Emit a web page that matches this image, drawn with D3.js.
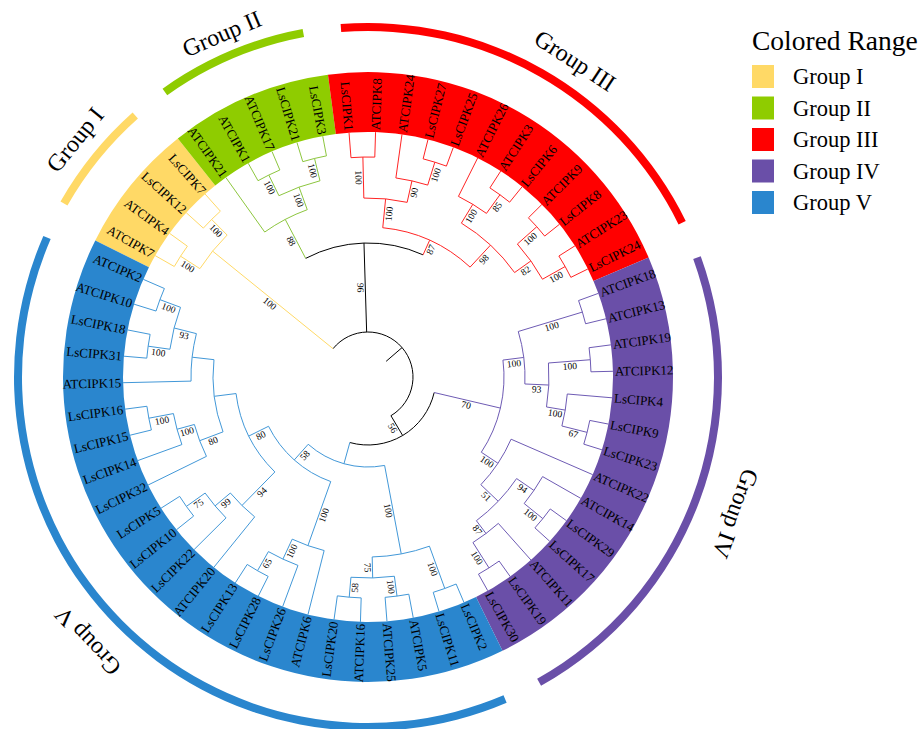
<!DOCTYPE html>
<html>
<head>
<meta charset="utf-8">
<script src="https://cdn.jsdelivr.net/npm/d3@7"></script>
<style>
  body { margin: 0; background: #fff; }
  svg { display: block; }
  text { font-family: "Liberation Serif", "Times New Roman", serif; fill: #000; }
</style>
</head>
<body>
<svg id="chart" width="921" height="729"></svg>
<script>
// ---- data -------------------------------------------------------------
// Leaves in clockwise order, starting with Group I.
const leafNames = [
  "ATCIPK7", "ATCIPK4", "LsCIPK12", "LsCIPK7",
  "ATCIPK21", "ATCIPK1", "ATCIPK17", "LsCIPK21", "LsCIPK3",
  "LsCIPK1", "ATCIPK8", "ATCIPK24", "LsCIPK27", "LsCIPK25", "ATCIPK26",
  "ATCIPK3", "LsCIPK6", "ATCIPK9", "LsCIPK8", "ATCIPK23", "LsCIPK24",
  "ATCIPK18", "ATCIPK13", "ATCIPK19", "ATCIPK12", "LsCIPK4", "LsCIPK9",
  "LsCIPK23", "ATCIPK22", "ATCIPK14", "LsCIPK29", "LsCIPK17", "ATCIPK11",
  "LsCIPK19", "LsCIPK30",
  "LsCIPK2", "LsCIPK11", "ATCIPK5", "ATCIPK25", "ATCIPK16", "LsCIPK20",
  "ATCIPK6", "LsCIPK26", "LsCIPK28", "LsCIPK13", "ATCIPK20", "LsCIPK22",
  "LsCIPK10", "LsCIPK5", "LsCIPK32", "LsCIPK14", "LsCIPK15", "LsCIPK16",
  "ATCIPK15", "LsCIPK31", "LsCIPK18", "ATCIPK10", "ATCIPK2"
];
// Parent clade of each leaf (same order as leafNames).
const leafParents = [
  "i1", "i1", "i2", "i2",
  "ii", "ii2", "ii2", "ii3", "ii3",
  "a1", "a1", "a2", "a3", "a3", "b1",
  "b2", "b2", "c1", "c1", "c2", "c2",
  "q1", "q1", "q3", "q3", "q4", "q5",
  "q5", "s", "u", "u1", "u1", "w",
  "w1", "w1",
  "x1", "x1", "x3", "x3", "x4", "x4",
  "z", "z1", "z2", "z2", "m", "m1",
  "m2", "m2", "k1", "k2", "k3", "k3",
  "j", "j2", "j2", "j3", "j3"
];
// Internal clades: [id, parent, branch length, bootstrap support]
const clades = [
  ["root", null, 0.21, null],
  ["gI", "root", 1.55, 100],
  ["i1", "gI", 0.23, 100],
  ["i2", "gI", 0.22, 100],
  ["n96", "root", 0.89, 96],
  ["ii", "n96", 0.44, 88],
  ["iin", "ii", 0.24, 100],
  ["ii2", "iin", 0.23, 100],
  ["ii3", "iin", 0.23, 100],
  ["r", "n96", 0.16, 87],
  ["a", "r", 0.29, 100],
  ["a1", "a", 0.41, 100],
  ["a2", "a", 0.22, 90],
  ["a3", "a2", 0.24, 100],
  ["b", "r", 0.30, 98],
  ["b1", "b", 0.22, 100],
  ["b2", "b1", 0.23, 85],
  ["c", "b", 0.20, 82],
  ["c1", "c", 0.26, 100],
  ["c2", "c", 0.26, 100],
  ["n56", "root", 0.23, 56],
  ["p", "n56", 0.68, 70],
  ["q", "p", 0.21, 100],
  ["q1", "q", 0.67, 100],
  ["q2", "q", 0.24, 93],
  ["q3", "q2", 0.42, 100],
  ["q4", "q2", 0.19, 100],
  ["q5", "q4", 0.26, 67],
  ["s", "p", 0.20, 100],
  ["t", "s", 0.24, 51],
  ["u", "t", 0.21, 94],
  ["u1", "u", 0.24, 100],
  ["w", "t", 0.16, 87],
  ["w1", "w", 0.30, 100],
  ["v", "n56", 0.22, null],
  ["x", "v", 0.90, 100],
  ["x1", "x", 0.45, 100],
  ["x2", "x", 0.21, 75],
  ["x3", "x2", 0.20, 100],
  ["x4", "x2", 0.20, 58],
  ["y", "v", 0.21, 58],
  ["z", "y", 0.68, 100],
  ["z1", "z", 0.22, 100],
  ["z2", "z1", 0.22, 65],
  ["y2", "y", 0.22, 80],
  ["m", "y2", 0.47, 94],
  ["m1", "m", 0.20, 99],
  ["m2", "m1", 0.23, 75],
  ["k", "y2", 0.22, null],
  ["k1", "k", 0.25, 80],
  ["k2", "k1", 0.18, 100],
  ["k3", "k2", 0.25, 100],
  ["j", "k", 0.22, null],
  ["j1", "j", 0.23, 93],
  ["j2", "j1", 0.22, 100],
  ["j3", "j1", 0.22, 100]
];
const groupNames = ["Group I", "Group II", "Group III", "Group IV", "Group V"];
const groupSizes = [4, 5, 12, 14, 23];
const legendTitle = "Colored Range";

// ---- style / layout ---------------------------------------------------
const rangeColors  = ["#FFD966", "#8FCC00", "#FF0000", "#6A4FA8", "#2A86CE"];
const branchColors = ["#FFD966", "#8DC63F", "#FF2424", "#6E5BB4", "#4298D8"];
const cx = 368, cy = 377;
const rootR = 24, pxPerUnit = 100, leafR = 245;
const bandInner = 245, bandOuter = 305;
const ringInner = 346, ringOuter = 354;
const startAngle = -150.3;              // degrees, svg convention (0 = 3 o'clock)
const step = 360 / leafNames.length;
const groupLabelLayout = [
  { r: 377, da: 0 }, { r: 373, da: 0 }, { r: 378, da: 3.5 },
  { r: 392, da: 0 }, { r: 385, da: 1.5 }
];

const rad = d => d * Math.PI / 180;
const polar = (r, a) => [cx + r * Math.cos(rad(a)), cy + r * Math.sin(rad(a))];

// group index of every leaf
const leafGroup = [];
groupSizes.forEach((n, g) => { for (let i = 0; i < n; i++) leafGroup.push(g); });

// ---- hierarchy ------------------------------------------------------------
const table = clades.map(c => ({ id: c[0], parentId: c[1], length: c[2], support: c[3] }))
  .concat(leafNames.map((n, i) => ({ id: n, parentId: leafParents[i], leaf: i })));
const root = d3.stratify().id(d => d.id).parentId(d => d.parentId)(table);

root.eachAfter(n => {
  n.minIdx = n.children ? d3.min(n.children, c => c.minIdx) : n.data.leaf;
});
root.each(n => { if (n.children) n.children.sort((a, b) => a.minIdx - b.minIdx); });

root.eachAfter(n => {
  if (!n.children) {
    n.angle = startAngle + n.data.leaf * step;
    n.group = leafGroup[n.data.leaf];
  } else {
    const f = n.children[0], l = n.children[n.children.length - 1];
    n.angle = (f.angle + l.angle) / 2;
    const gs = new Set(n.children.map(c => c.group));
    n.group = (gs.size === 1 && !gs.has(null)) ? n.children[0].group : null;
  }
});
root.eachBefore(n => {
  n.depthLen = (n.parent ? n.parent.depthLen : 0) + (n.data.length || 0);
  n.r = n.children ? rootR + n.depthLen * pxPerUnit : leafR;
});
const parentR = n => n.parent ? n.parent.r : rootR;
const nodeColor = n => n.group == null ? "#000" : branchColors[n.group];

// ---- drawing --------------------------------------------------------------
const svg = d3.select("#chart");

// colored ranges behind the leaf labels
const arcGen = d3.arc();
let acc = 0;
const ranges = groupSizes.map((n, g) => {
  const first = acc, last = acc + n - 1; acc += n;
  return { g, a0: startAngle + first * step, a1: startAngle + last * step };
});
svg.append("g").selectAll("path").data(ranges).join("path")
  .attr("transform", `translate(${cx},${cy})`)
  .attr("fill", d => rangeColors[d.g])
  .attr("d", d => arcGen({
    innerRadius: bandInner, outerRadius: bandOuter,
    startAngle: rad(d.a0 - step / 2 + 90), endAngle: rad(d.a1 + step / 2 + 90)
  }));

// outer group rings
svg.append("g").selectAll("path").data(ranges).join("path")
  .attr("transform", `translate(${cx},${cy})`)
  .attr("fill", d => rangeColors[d.g])
  .attr("d", d => arcGen({
    innerRadius: ringInner, outerRadius: ringOuter,
    startAngle: rad(d.a0 + 90), endAngle: rad(d.a1 + 90)
  }));

// tree branches
const gTree = svg.append("g").attr("fill", "none").attr("stroke-width", 1);
root.descendants().forEach(n => {
  const [x0, y0] = polar(parentR(n), n.angle);
  const [x1, y1] = polar(n.r, n.angle);
  gTree.append("path").attr("stroke", nodeColor(n)).attr("d", `M${x0},${y0}L${x1},${y1}`);
  if (n.children) {
    const f = n.children[0].angle, l = n.children[n.children.length - 1].angle;
    const [ax, ay] = polar(n.r, f), [bx, by] = polar(n.r, l);
    const large = (l - f) > 180 ? 1 : 0;
    gTree.append("path").attr("stroke", nodeColor(n))
      .attr("d", `M${ax},${ay}A${n.r},${n.r} 0 ${large} 1 ${bx},${by}`);
  }
});

// leaf labels
svg.append("g").selectAll("text").data(root.leaves()).join("text")
  .attr("font-size", 13)
  .attr("dominant-baseline", "central")
  .attr("text-anchor", d => Math.cos(rad(d.angle)) >= 0 ? "start" : "end")
  .attr("transform", d => {
    const [x, y] = polar(leafR + 2, d.angle);
    const rot = Math.cos(rad(d.angle)) >= 0 ? d.angle : d.angle + 180;
    return `translate(${x},${y}) rotate(${rot})`;
  })
  .text(d => d.id);

// bootstrap values on branches
const supported = root.descendants().filter(n => n.children && n.data.support != null);
svg.append("g").selectAll("text").data(supported).join("text")
  .attr("font-size", 9.5)
  .attr("text-anchor", "middle")
  .attr("dominant-baseline", "central")
  .attr("transform", d => {
    const [x, y] = polar((parentR(d) + d.r) / 2, d.angle);
    const rot = Math.cos(rad(d.angle)) > 0.001 ? d.angle : d.angle + 180;
    return `translate(${x},${y}) rotate(${rot}) translate(0,5)`;
  })
  .text(d => d.data.support);

// group names along the outer rings
svg.append("g").selectAll("text").data(ranges).join("text")
  .attr("font-size", 24)
  .attr("text-anchor", "middle")
  .attr("dominant-baseline", "central")
  .attr("transform", d => {
    const L = groupLabelLayout[d.g];
    const a = (d.a0 + d.a1) / 2 + L.da;
    const [x, y] = polar(L.r, a);
    return `translate(${x},${y}) rotate(${a + 90})`;
  })
  .text(d => groupNames[d.g]);

// legend
const legend = svg.append("g").attr("transform", "translate(752,0)");
legend.append("text").attr("x", 0).attr("y", 50).attr("font-size", 27.5).text(legendTitle);
const items = legend.selectAll("g.item").data(groupNames).join("g")
  .attr("class", "item")
  .attr("transform", (d, i) => `translate(0,${65 + i * 31.5})`);
items.append("rect").attr("width", 22).attr("height", 23).attr("fill", (d, i) => rangeColors[i]);
items.append("text").attr("x", 41).attr("y", 11.5).attr("dominant-baseline", "central")
  .attr("font-size", 22.5).text(d => d);
</script>
</body>
</html>
